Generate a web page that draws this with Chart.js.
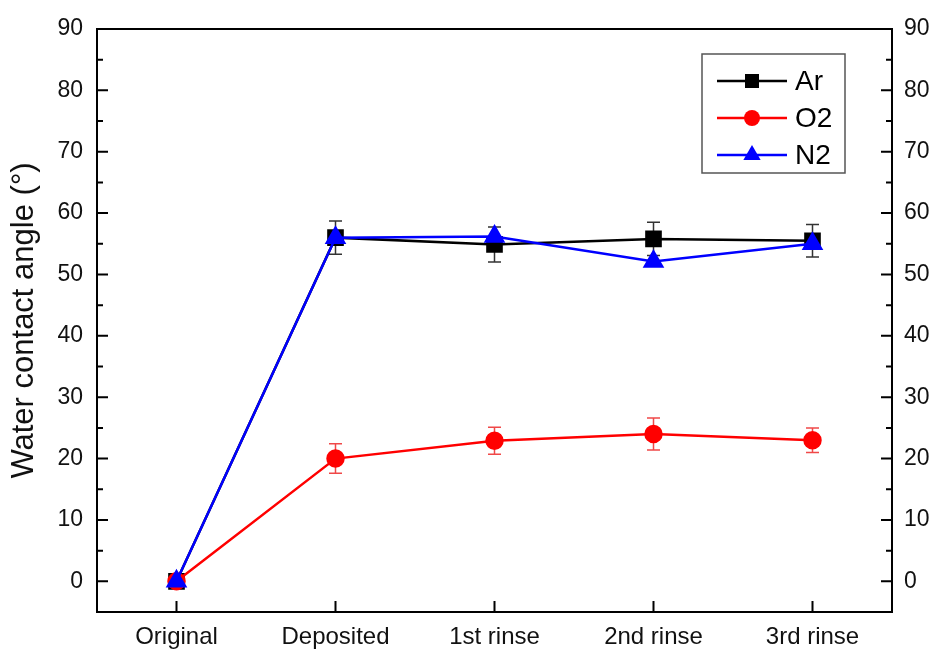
<!DOCTYPE html>
<html>
<head>
<meta charset="utf-8">
<script src="https://cdn.jsdelivr.net/npm/chart.js@4/dist/chart.umd.min.js"></script>
<style>
html,body{margin:0;padding:0;background:#fff;}
#wrap{width:934px;height:649px;position:relative;}
</style>
</head>
<body>
<div id="wrap"><canvas id="c" width="934" height="649"></canvas></div>
<script>
const categories = ['Original', 'Deposited', '1st rinse', '2nd rinse', '3rd rinse'];
const arValues = [0, 56.0, 54.9, 55.8, 55.5];
const arErrors = [0, 2.7, 2.85, 2.7, 2.65];
const o2Values = [0, 20.0, 22.9, 24.0, 23.0];
const o2Errors = [0, 2.4, 2.2, 2.6, 2.0];
const n2Values = [0, 56.0, 56.2, 52.1, 55.0];
const yTickValues = [0, 10, 20, 30, 40, 50, 60, 70, 80, 90];
const yMinorTickValues = [5, 15, 25, 35, 45, 55, 65, 75, 85];
const seriesNames = ['Ar', 'O2', 'N2'];

const FONT = 'Liberation Sans, Arial, sans-serif';

const errorBars = {
  id: 'errorBars',
  beforeDatasetsDraw(chart) {
    const ctx = chart.ctx;
    const x = chart.scales.x, y = chart.scales.y;
    const sets = [
      {vals: arValues, errs: arErrors, color: '#333333'},
      {vals: o2Values, errs: o2Errors, color: '#f04848'}
    ];
    ctx.save();
    ctx.lineWidth = 1.5;
    sets.forEach(s => {
      ctx.strokeStyle = s.color;
      s.vals.forEach((v, i) => {
        const e = s.errs[i];
        if (!e) return;
        const px = x.getPixelForValue(i);
        const top = y.getPixelForValue(v + e);
        const bot = y.getPixelForValue(v - e);
        ctx.beginPath();
        ctx.moveTo(px, top); ctx.lineTo(px, bot);
        ctx.moveTo(px - 6.5, top); ctx.lineTo(px + 6.5, top);
        ctx.moveTo(px - 6.5, bot); ctx.lineTo(px + 6.5, bot);
        ctx.stroke();
      });
    });
    ctx.restore();
  }
};

function drawMarker(ctx, style, cx, cy, color) {
  ctx.fillStyle = color;
  ctx.beginPath();
  if (style === 'rect') {
    ctx.rect(cx - 7, cy - 7, 14, 14);
  } else if (style === 'circle') {
    ctx.arc(cx, cy, 8, 0, Math.PI * 2);
  } else {
    const r = 10;
    ctx.moveTo(cx, cy - r);
    ctx.lineTo(cx + r * Math.cos(Math.PI / 6), cy + r * 0.5);
    ctx.lineTo(cx - r * Math.cos(Math.PI / 6), cy + r * 0.5);
    ctx.closePath();
  }
  ctx.fill();
}

const frame = {
  id: 'frame',
  afterDraw(chart) {
    const ctx = chart.ctx;
    const a = chart.chartArea;
    const x = chart.scales.x, y = chart.scales.y;
    ctx.save();
    ctx.strokeStyle = '#000';
    ctx.lineWidth = 2;
    ctx.strokeRect(a.left, a.top, a.right - a.left, a.bottom - a.top);
    ctx.beginPath();
    yTickValues.forEach(v => {
      const py = y.getPixelForValue(v);
      ctx.moveTo(a.left, py); ctx.lineTo(a.left + 11, py);
      ctx.moveTo(a.right, py); ctx.lineTo(a.right - 11, py);
    });
    yMinorTickValues.forEach(v => {
      const py = y.getPixelForValue(v);
      ctx.moveTo(a.left, py); ctx.lineTo(a.left + 6, py);
      ctx.moveTo(a.right, py); ctx.lineTo(a.right - 6, py);
    });
    categories.forEach((c, i) => {
      const px = x.getPixelForValue(i);
      ctx.moveTo(px, a.bottom); ctx.lineTo(px, a.bottom - 11);
    });
    ctx.stroke();

    // legend
    const lx = 702, ly = 54, lw = 143, lh = 119;
    ctx.fillStyle = '#fff';
    ctx.fillRect(lx, ly, lw, lh);
    ctx.strokeStyle = '#555';
    ctx.lineWidth = 1.5;
    ctx.strokeRect(lx, ly, lw, lh);
    chart.data.datasets.forEach((ds, i) => {
      const cy = 81 + i * 37;
      ctx.strokeStyle = ds.borderColor;
      ctx.lineWidth = 2.5;
      ctx.beginPath();
      ctx.moveTo(717, cy); ctx.lineTo(787, cy);
      ctx.stroke();
      drawMarker(ctx, ds.pointStyle, 752, cy, ds.pointBackgroundColor);
      ctx.fillStyle = '#000';
      ctx.font = '28px ' + FONT;
      ctx.textBaseline = 'middle';
      ctx.textAlign = 'left';
      ctx.fillText(ds.label, 795, cy + 1);
    });
    ctx.restore();
  }
};

const yTickFont = {family: FONT, size: 23};
const xTickFont = {family: FONT, size: 24};

new Chart(document.getElementById('c'), {
  type: 'line',
  data: {
    labels: categories,
    datasets: [
      {label: seriesNames[0], data: arValues, borderColor: '#000000', backgroundColor: '#000000',
       pointBackgroundColor: '#000000', pointBorderColor: '#000000', pointStyle: 'rect', pointRadius: 10,
       borderWidth: 2.5, order: 3, tension: 0},
      {label: seriesNames[1], data: o2Values, borderColor: '#ff0000', backgroundColor: '#ff0000',
       pointBackgroundColor: '#ff0000', pointBorderColor: '#ff0000', pointStyle: 'circle', pointRadius: 8,
       borderWidth: 2.5, order: 2, tension: 0},
      {label: seriesNames[2], data: n2Values, borderColor: '#0000ff', backgroundColor: '#0000ff',
       pointBackgroundColor: '#0000ff', pointBorderColor: '#0000ff', pointStyle: 'triangle', pointRadius: 10,
       borderWidth: 2.5, order: 1, tension: 0}
    ]
  },
  options: {
    responsive: false,
    animation: false,
    layout: {padding: {top: 29, left: 0, right: 0, bottom: 0}},
    plugins: {legend: {display: false}, tooltip: {enabled: false}},
    elements: {point: {borderWidth: 0, hoverRadius: 0}},
    scales: {
      x: {
        type: 'category',
        offset: true,
        grid: {display: false, drawTicks: false},
        border: {display: false},
        ticks: {font: xTickFont, color: '#111', padding: 11, maxRotation: 0, autoSkip: false},
        afterFit(s) { s.height = 37; }
      },
      y: {
        position: 'left',
        min: -5, max: 90,
        grid: {display: false, drawTicks: false},
        border: {display: false},
        ticks: {font: yTickFont, color: '#111', padding: 14},
        afterBuildTicks(s) { s.ticks = yTickValues.map(v => ({value: v})); },
        title: {display: true, text: 'Water contact angle (°)', font: {family: FONT, size: 31}, color: '#111',
                padding: {top: 6, bottom: 0}},
        afterFit(s) { s.width = 97; }
      },
      y2: {
        position: 'right',
        min: -5, max: 90,
        grid: {display: false, drawTicks: false},
        border: {display: false},
        ticks: {font: yTickFont, color: '#111', padding: 12},
        afterBuildTicks(s) { s.ticks = yTickValues.map(v => ({value: v})); },
        afterFit(s) { s.width = 42; }
      }
    }
  },
  plugins: [errorBars, frame]
});
</script>
</body>
</html>
